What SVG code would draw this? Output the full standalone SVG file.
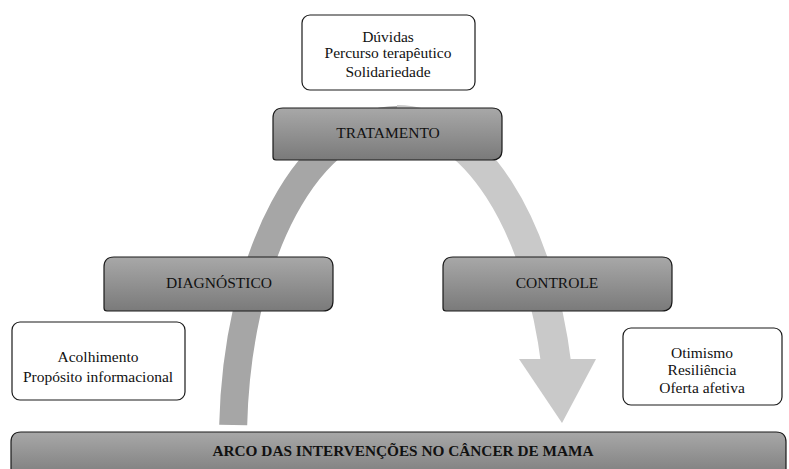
<svg xmlns="http://www.w3.org/2000/svg" width="789" height="469" viewBox="0 0 789 469">
<defs>
<linearGradient id="g" x1="0" y1="0" x2="0" y2="1">
<stop offset="0" stop-color="#a8a8a8"/>
<stop offset="1" stop-color="#7a7a7a"/>
</linearGradient>
<style>
.stage{fill:url(#g);stroke:#1a1a1a;stroke-width:1.2}
.note{fill:#fff;stroke:#1a1a1a;stroke-width:1.2}
.t{font-size:15.5px;fill:#111;text-anchor:middle}
.b{font-weight:bold;font-size:15.3px}
</style>
</defs>
<rect width="789" height="469" fill="#fff"/>
<g id="connectors">
<path d="M 233.2 425 A 164 320 0 0 1 397 120" fill="none" stroke="#a6a6a6" stroke-width="28"/>
<path d="M 397 120 A 164 320 0 0 1 556.5 366" fill="none" stroke="#c9c9c9" stroke-width="30"/>
<polygon points="519,359 596,359 562,423" fill="#c9c9c9"/>
</g>
<g font-family="Liberation Serif, Times New Roman, DejaVu Serif, serif">
<g id="tratamento">
<path class="stage" d="M 283 108 H 492 Q 502 108 502 118 V 150 Q 502 160 492 160 H 276 Q 273 160 273 157 V 118 Q 273 108 283 108 Z"/>
<text class="t" x="388" y="138">TRATAMENTO</text>
</g>
<g id="diagnostico">
<path class="stage" d="M 114 257 H 323 Q 333 257 333 267 V 301 Q 333 311 323 311 H 107 Q 104 311 104 308 V 267 Q 104 257 114 257 Z"/>
<text class="t" x="219" y="288">DIAGNÓSTICO</text>
</g>
<g id="controle">
<path class="stage" d="M 453 257 H 662 Q 672 257 672 267 V 301 Q 672 311 662 311 H 446 Q 443 311 443 308 V 267 Q 443 257 453 257 Z"/>
<text class="t" x="557" y="288">CONTROLE</text>
</g>
<g id="arco">
<path class="stage" d="M 21 432 H 776 Q 786 432 786 442 V 480 H 14 Q 11 480 11 477 V 442 Q 11 432 21 432 Z"/>
<text class="t b" x="403" y="456">ARCO DAS INTERVENÇÕES NO CÂNCER DE MAMA</text>
</g>
<g id="nota-tratamento">
<rect class="note" x="302" y="15" width="173" height="75" rx="8"/>
<text class="t" x="388" y="42">Dúvidas</text>
<text class="t" x="388" y="58">Percurso terapêutico</text>
<text class="t" x="388" y="77">Solidariedade</text>
</g>
<g id="nota-diagnostico">
<rect class="note" x="12" y="322" width="173" height="78" rx="8"/>
<text class="t" x="98" y="362">Acolhimento</text>
<text class="t" x="98" y="382">Propósito informacional</text>
</g>
<g id="nota-controle">
<rect class="note" x="623" y="328" width="159" height="77" rx="8"/>
<text class="t" x="702" y="358">Otimismo</text>
<text class="t" x="702" y="375">Resiliência</text>
<text class="t" x="702" y="393">Oferta afetiva</text>
</g>
</g>
</svg>
